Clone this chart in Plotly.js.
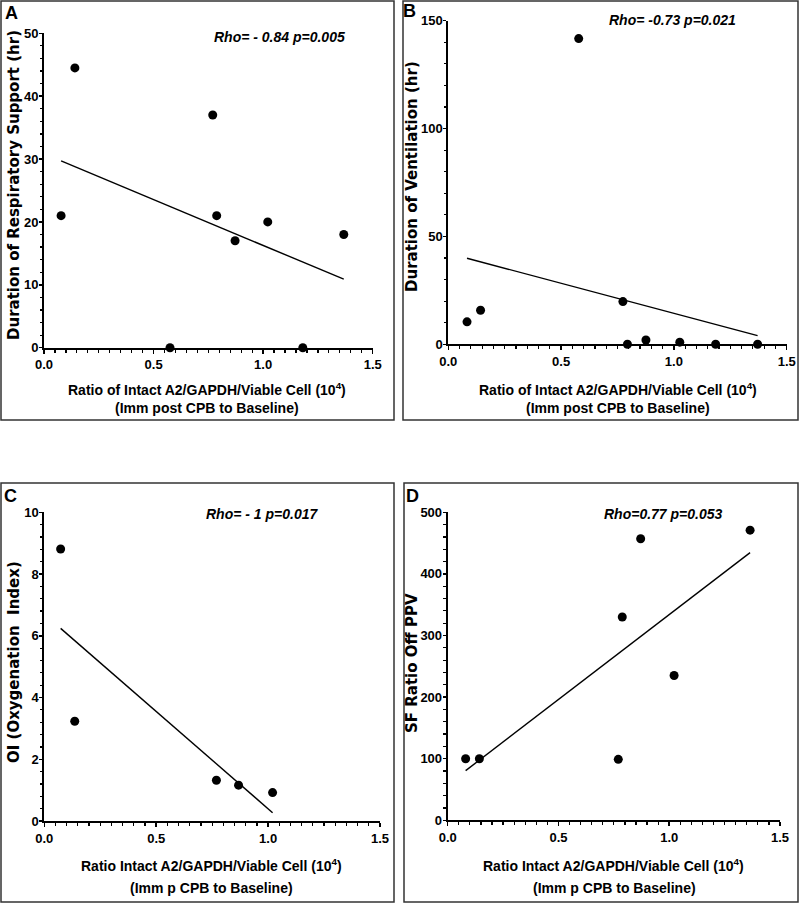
<!DOCTYPE html>
<html>
<head>
<meta charset="utf-8">
<script src="https://cdn.plot.ly/plotly-3.0.1.min.js"></script>
<style>
  html, body { margin: 0; padding: 0; background: #fff; }
  #chart { width: 800px; height: 904px; }
</style>
</head>
<body>
<div id="chart"></div>
<script>
// Panel A: duration of respiratory support
const xA = [0.078, 0.141, 0.575, 0.770, 0.788, 0.872, 1.021, 1.181, 1.368];
const yA = [21, 44.5, 0, 37, 21, 17, 20, 0, 18];
const fitAx = [0.078, 1.368];
const fitAy = [29.7, 10.9];

// Panel B: duration of ventilation
const xB = [0.083, 0.143, 0.578, 0.774, 0.794, 0.876, 1.026, 1.185, 1.371];
const yB = [10.4, 15.8, 141.7, 19.8, 0, 2, 1, 0, 0];
const fitBx = [0.083, 1.371];
const fitBy = [39.9, 4.0];

// Panel C: oxygenation index
const xC = [0.073, 0.136, 0.769, 0.868, 1.020];
const yC = [8.81, 3.23, 1.32, 1.16, 0.92];
const fitCx = [0.073, 1.020];
const fitCy = [6.24, 0.27];

// Panel D: SF ratio off PPV
const xD = [0.081, 0.143, 0.770, 0.788, 0.871, 1.022, 1.365];
const yD = [100, 100, 99, 330, 457, 235, 471];
const fitDx = [0.081, 1.365];
const fitDy = [80.6, 434.5];

const panelLabels = ["A", "B", "C", "D"];
const rhoTexts = ["Rho= - 0.84 p=0.005", "Rho= -0.73 p=0.021", "Rho= - 1 p=0.017", "Rho=0.77 p=0.053"];
const yTitles = ["Duration of Respiratory Support (hr)", "Duration of Ventilation (hr)",
  "OI (Oxygenation&nbsp; Index)", "SF Ratio Off PPV"];
const xTitle1 = ["Ratio of Intact A2/GAPDH/Viable Cell (10<sup>4</sup>)",
  "Ratio of Intact A2/GAPDH/Viable Cell (10<sup>4</sup>)",
  "Ratio Intact A2/GAPDH/Viable Cell (10<sup>4</sup>)",
  "Ratio Intact A2/GAPDH/Viable Cell (10<sup>4</sup>)"];
const xTitle2 = ["(Imm post CPB to Baseline)", "(Imm post CPB to Baseline)",
  "(Imm p CPB to Baseline)", "(Imm p CPB to Baseline)"];

const W = 800, H = 904;
const px = (v) => v / W;
const py = (v) => 1 - v / H;

const narrow = "'Liberation Sans Narrow', 'Arial Narrow', 'Liberation Sans', Arial, sans-serif";
const wide = "'Liberation Sans', Arial, sans-serif";
const heavy = "'DejaVu Sans', 'Liberation Sans', Arial, sans-serif";

function punkte(x, y, n) {
  return {
    x: x, y: y, xaxis: "x" + n, yaxis: "y" + n,
    type: "scatter", mode: "markers", cliponaxis: false,
    marker: { color: "#000", size: 9 }, showlegend: false, hoverinfo: "x+y",
  };
}
function linie(x, y, n) {
  return {
    x: x, y: y, xaxis: "x" + n, yaxis: "y" + n,
    type: "scatter", mode: "lines", cliponaxis: false,
    line: { color: "#000", width: 1.4 }, showlegend: false, hoverinfo: "skip",
  };
}

const daten = [
  linie(fitAx, fitAy, ""), punkte(xA, yA, ""),
  linie(fitBx, fitBy, "2"), punkte(xB, yB, "2"),
  linie(fitCx, fitCy, "3"), punkte(xC, yC, "3"),
  linie(fitDx, fitDy, "4"), punkte(xD, yD, "4"),
];

const tickFont = { family: narrow, size: 13, weight: "bold", color: "#000" };

function achseX(domain, anchor) {
  return {
    domain: domain, anchor: anchor, range: [0, 1.5], tickvals: [0, 0.5, 1, 1.5],
    ticktext: ["0.0", "0.5", "1.0", "1.5"],
    showline: true, linecolor: "#000", linewidth: 2, showgrid: false, zeroline: false,
    ticks: "outside", ticklen: 4, tickwidth: 1.5, tickcolor: "#000",
    minor: { dtick: 0.05, ticks: "outside", ticklen: 3, tickwidth: 1.2, tickcolor: "#000", showgrid: false },
    tickfont: tickFont,
    fixedrange: true,
  };
}
function achseY(domain, anchor, max, dtick, minor) {
  return {
    domain: domain, anchor: anchor, range: [0, max], dtick: dtick, tick0: 0,
    showline: true, linecolor: "#000", linewidth: 2, showgrid: false, zeroline: false,
    ticks: "outside", ticklen: 3, tickwidth: 1.5, tickcolor: "#000",
    ticklabelstandoff: -2,
    minor: { dtick: minor, ticks: "outside", ticklen: 2.5, tickwidth: 1.2, tickcolor: "#000", showgrid: false },
    tickfont: tickFont,
    fixedrange: true,
  };
}

// Achsenbereiche in Pixeln aus der Vorlage
const layout = {
  width: W, height: H,
  margin: { t: 0, r: 0, b: 0, l: 0 },
  paper_bgcolor: "#fff", plot_bgcolor: "rgba(0,0,0,0)",
  showlegend: false,
  xaxis: achseX([px(44), px(372.7)], "y"),
  yaxis: achseY([py(347.7), py(33.3)], "x", 50, 10, 2),
  xaxis2: achseX([px(448.3), px(786.7)], "y2"),
  yaxis2: achseY([py(344.3), py(20.7)], "x2", 150, 50, 10),
  xaxis3: achseX([px(44.3), px(380)], "y3"),
  yaxis3: achseY([py(821), py(512.3)], "x3", 10, 2, 0.4),
  xaxis4: achseX([px(447.7), px(780)], "y4"),
  yaxis4: achseY([py(820.3), py(512.3)], "x4", 500, 100, 20),
  shapes: [],
  annotations: [],
};

// Rahmen um die Panels
const rahmen = [[1, 1, 394, 420], [403, 1, 798, 420], [1, 483, 394, 902], [404, 483, 798, 902]];
rahmen.forEach((r) => {
  layout.shapes.push({
    type: "rect", xref: "paper", yref: "paper",
    x0: px(r[0]), y0: py(r[3]), x1: px(r[2]), y1: py(r[1]),
    line: { color: "#333", width: 1.5 },
  });
});

function text(t, x, y, font, extra) {
  layout.annotations.push(Object.assign({
    text: t, xref: "paper", yref: "paper", x: px(x), y: py(y),
    xanchor: "center", yanchor: "middle", showarrow: false, font: font,
  }, extra || {}));
}

const labelPos = [[11, 13], [409, 11], [10, 496], [412, 496]];
const rhoPos = [[279, 37], [672, 20], [262, 514], [663, 514]];
const yTitlePos = [[14, 185], [412, 177], [14, 662], [412, 663]];
const xTitle1Pos = [[207, 389], [618, 389], [211, 865], [613, 865]];
const xTitle2Pos = [[207, 408], [618, 408], [211, 888], [614, 888]];

for (let i = 0; i < 4; i++) {
  text(panelLabels[i], labelPos[i][0], labelPos[i][1], { family: wide, size: 18, weight: "bold", color: "#000" });
  text("<i>" + rhoTexts[i] + "</i>", rhoPos[i][0], rhoPos[i][1], { family: narrow, size: 14, weight: "bold", color: "#000" });
  text(yTitles[i], yTitlePos[i][0], yTitlePos[i][1], { family: heavy, size: 15, weight: "bold", color: "#000" }, { textangle: -90 });
  text(xTitle1[i], xTitle1Pos[i][0], xTitle1Pos[i][1], { family: narrow, size: 14, weight: "bold", color: "#000" });
  text(xTitle2[i], xTitle2Pos[i][0], xTitle2Pos[i][1], { family: narrow, size: 14, weight: "bold", color: "#000" });
}

Plotly.newPlot("chart", daten, layout, { displayModeBar: false, staticPlot: true });
</script>
</body>
</html>
